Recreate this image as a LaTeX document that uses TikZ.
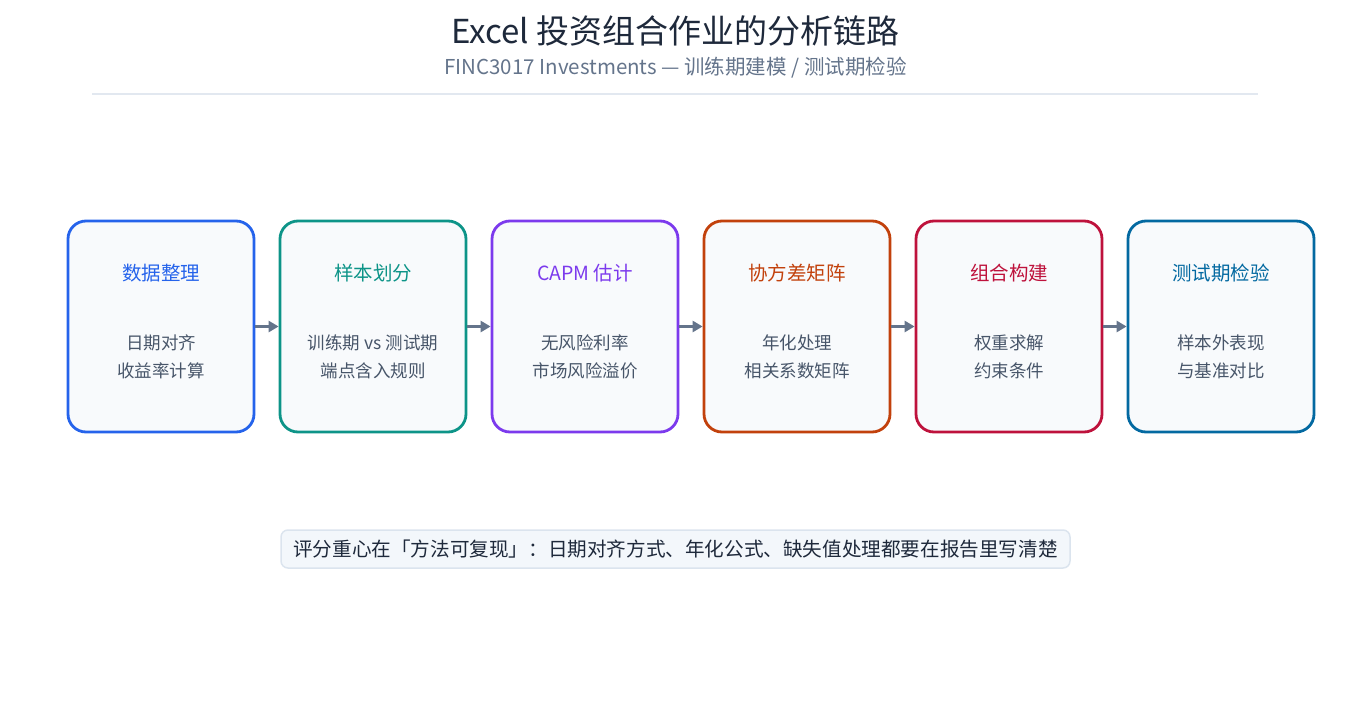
\documentclass[tikz,border=0pt]{standalone}
\usepackage{fontspec}
\setmainfont{Noto Sans CJK SC}
\usepackage{xcolor}
\usetikzlibrary{arrows.meta}
\definecolor{cA}{HTML}{2563EB}
\definecolor{cB}{HTML}{0D9488}
\definecolor{cC}{HTML}{7C3AED}
\definecolor{cD}{HTML}{C2410C}
\definecolor{cE}{HTML}{BE123C}
\definecolor{cF}{HTML}{0369A1}
\definecolor{txt}{HTML}{475569}
\definecolor{arr}{HTML}{64748B}
\definecolor{head}{HTML}{1E293B}
\tikzset{
  step/.style={draw=#1, line width=2.8pt, rounded corners=18pt, fill={rgb,255:red,248;green,250;blue,252}, minimum width=186pt, minimum height=211pt},
  flow/.style={draw=arr, line width=3pt, -{Triangle[length=10pt,width=11pt]}}
}
\begin{document}
\begin{tikzpicture}[x=1pt,y=1pt]
\useasboundingbox (0,0) rectangle (1351,-717);
\node[text=head, font=\fontsize{33}{36}\selectfont] (Title) at (675.5,-31) {Excel 投资组合作业的分析链路};
\node[text=arr, font=\fontsize{20.5}{24}\selectfont] (Sub) at (675.5,-68) {FINC3017 Investments — 训练期建模 / 测试期检验};
\draw[draw={rgb,255:red,226;green,232;blue,240}, line width=1.5pt] (92,-94) -- (1258,-94);
\foreach \i/\c/\t/\a/\b in {1/cA/数据整理/日期对齐/收益率计算, 2/cB/样本划分/训练期 vs 测试期/端点含入规则, 3/cC/CAPM 估计/无风险利率/市场风险溢价, 4/cD/协方差矩阵/年化处理/相关系数矩阵, 5/cE/组合构建/权重求解/约束条件, 6/cF/测试期检验/样本外表现/与基准对比}{
  \node[step=\c] (S\i) at (161+212*\i-212,-326.5) {};
  \node[text=\c, font=\fontsize{19.5}{22}\selectfont] (T\i) at (161+212*\i-212,-273) {\t};
  \node[text=txt, font=\fontsize{17.5}{28}\selectfont, align=center] (B\i) at (161+212*\i-212,-357) {\a\\\b};
}
\foreach \i/\j in {1/2,2/3,3/4,4/5,5/6}\draw[flow] (S\i.east) -- (S\j.west);
\node[draw={rgb,255:red,219;green,228;blue,238}, fill={rgb,255:red,243;green,247;blue,251}, line width=1.5pt, rounded corners=7pt, minimum width=789pt, minimum height=38pt, text=head, font=\fontsize{19.6}{22}\selectfont] (Note) at (675.5,-549) {评分重心在「方法可复现」：日期对齐方式、年化公式、缺失值处理都要在报告里写清楚};
\end{tikzpicture}
\end{document}
